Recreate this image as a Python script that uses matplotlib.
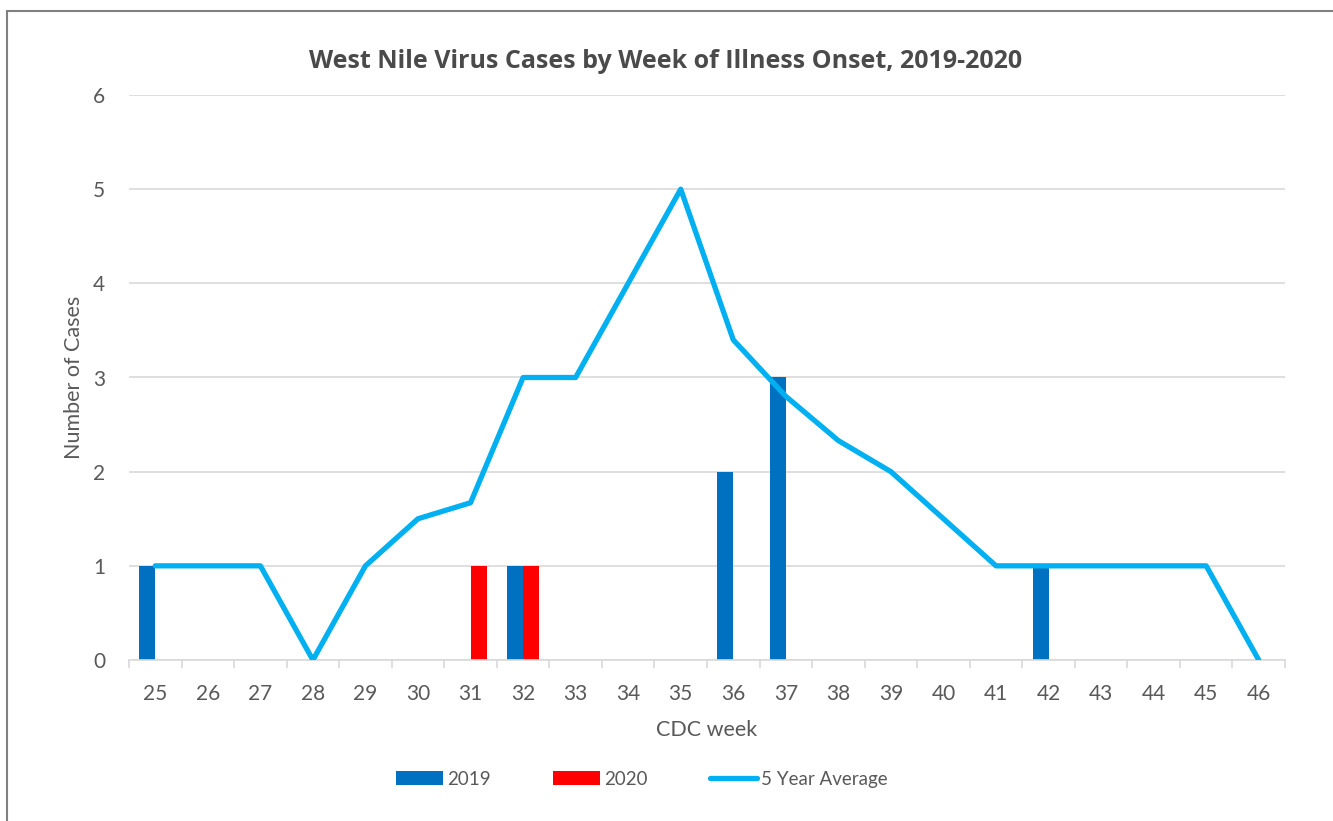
import matplotlib
matplotlib.use("Agg")
import matplotlib.pyplot as plt
import numpy as np
from matplotlib.patches import Patch, Rectangle
from matplotlib.lines import Line2D

weeks = [25, 26, 27, 28, 29, 30, 31, 32, 33, 34, 35, 36, 37, 38, 39, 40, 41, 42, 43, 44, 45, 46]
cases_2019 = [1, 0, 0, 0, 0, 0, 0, 1, 0, 0, 0, 2, 3, 0, 0, 0, 0, 1, 0, 0, 0, 0]
cases_2020 = [0, 0, 0, 0, 0, 0, 1, 1, 0, 0, 0, 0, 0, 0, 0, 0, 0, 0, 0, 0, 0, 0]
avg_5yr = [1, 1, 1, 0, 1, 1.5, 1.67, 3, 3, 4, 5, 3.4, 2.8, 2.33, 2, 1.5, 1, 1, 1, 1, 1, 0]

title = "West Nile Virus Cases by Week of Illness Onset, 2019-2020"
xlabel = "CDC week"
ylabel = "Number of Cases"
labels = ["2019", "2020", "5 Year Average"]

C2019 = "#0070C0"
C2020 = "#FF0000"
CAVG = "#00B0F0"
TXT = "#595959"
GRID = "#D9D9D9"

plt.rcParams['font.family'] = ['Lato', 'DejaVu Sans']

fig = plt.figure(figsize=(13.33, 8.21), dpi=100)
ax = fig.add_axes([129/1333, 1-660/821, (1285-129)/1333, (660-95)/821])

x = np.arange(len(weeks))
bw = 0.305
ax.bar(x - bw, cases_2019, width=bw, align='edge', color=C2019, zorder=2)
ax.bar(x, cases_2020, width=bw, align='edge', color=C2020, zorder=2)
ax.plot(x, avg_5yr, color=CAVG, linewidth=3.8, solid_joinstyle='round', solid_capstyle='round', zorder=3)

ax.set_xlim(-0.5, len(weeks) - 0.5)
ax.set_ylim(0, 6)
ax.set_yticks(range(0, 7))
ax.yaxis.grid(True, color=GRID, linewidth=1.2, zorder=0)
ax.set_axisbelow(True)
ax.set_xticks(x)
ax.set_xticklabels([str(w) for w in weeks])
ax.set_xticks(np.arange(-0.5, len(weeks)), minor=True)
ax.tick_params(axis='x', which='major', length=0, pad=17, labelsize=15, labelcolor=TXT)
ax.tick_params(axis='x', which='minor', length=6, width=1.2, color=GRID)
ax.tick_params(axis='y', length=0, pad=17, labelsize=15, labelcolor=TXT)
for s in ['top', 'right', 'left']:
    ax.spines[s].set_visible(False)
ax.spines['bottom'].set_color(GRID)
ax.spines['bottom'].set_linewidth(1.2)

ax.set_xlabel(xlabel, fontsize=15.5, color=TXT, labelpad=12)
ax.set_ylabel(ylabel, fontsize=15.5, color=TXT, labelpad=7)

fig.text(666/1333, 1-62/821, title, ha='center', va='center', fontsize=18, fontweight='bold',
         family=['Open Sans', 'DejaVu Sans'], color="#4A4A4A")

handles = [Patch(facecolor=C2019), Patch(facecolor=C2020), Line2D([0], [0], color=CAVG, linewidth=3.8, solid_capstyle='round')]
fig.legend(handles, labels, loc='center', bbox_to_anchor=(642/1333, 1-779/821), ncol=3, frameon=False,
           fontsize=13.5, handlelength=2.5, handleheight=0.85, handletextpad=0.25, columnspacing=3.3, labelcolor=TXT)

fig.add_artist(Rectangle((7.5/1333, -0.1), 1.2, 1.1 - 11/821, transform=fig.transFigure,
                         fill=False, edgecolor="#808080", linewidth=1.5))

fig.savefig("out.png", dpi=100)
